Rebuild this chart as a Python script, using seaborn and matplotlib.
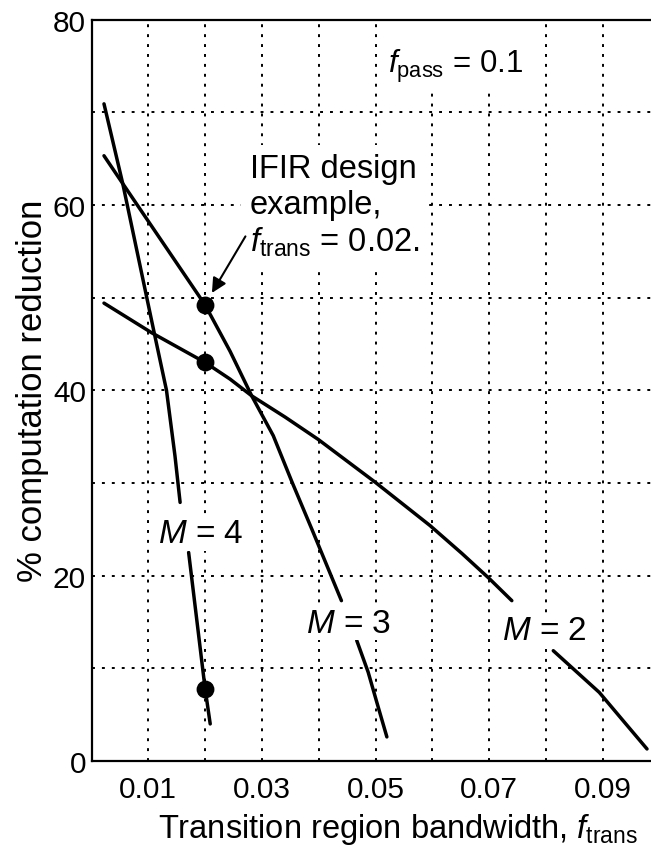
import numpy as np
import pandas as pd
import seaborn as sns
import matplotlib.pyplot as plt
from matplotlib.ticker import MultipleLocator

# ---------------------------------------------------- data ----------------------------------------------------
m4_upper_x = [0.0022, 0.0055, 0.0109, 0.0132, 0.0147, 0.0156]
m4_upper_y = [70.9, 62.3, 46.6, 40.0, 32.9, 27.9]
m4_lower_x = [0.0171, 0.0200, 0.0209]
m4_lower_y = [22.5, 7.8, 4.0]

m3_upper_x = [0.0022, 0.0055, 0.0200, 0.0244, 0.0282, 0.0320, 0.0353, 0.0388, 0.0440]
m3_upper_y = [65.3, 62.3, 49.2, 44.2, 39.4, 35.1, 30.1, 25.0, 17.3]
m3_lower_x = [0.0467, 0.0487, 0.0502, 0.0520]
m3_lower_y = [13.0, 9.6, 6.4, 2.6]

m2_upper_x = [0.0022, 0.0106, 0.0200, 0.0244, 0.0282, 0.0341, 0.0399, 0.0499, 0.0596, 0.0652, 0.0700, 0.0740]
m2_upper_y = [49.4, 46.2, 43.0, 41.2, 39.4, 37.1, 34.7, 30.1, 25.4, 22.4, 19.7, 17.3]
m2_lower_x = [0.0813, 0.0894, 0.0938, 0.0978]
m2_lower_y = [11.9, 7.4, 4.2, 1.3]

design_x = [0.02, 0.02, 0.02]
design_y = [49.2, 43.0, 7.8]

x_ticks = [0.01, 0.03, 0.05, 0.07, 0.09]
x_tick_labels = ['0.01', '0.03', '0.05', '0.07', '0.09']
y_ticks = [0, 20, 40, 60, 80]


def segments_frame():
    parts = [('M4a', m4_upper_x, m4_upper_y), ('M4b', m4_lower_x, m4_lower_y),
             ('M3a', m3_upper_x, m3_upper_y), ('M3b', m3_lower_x, m3_lower_y),
             ('M2a', m2_upper_x, m2_upper_y), ('M2b', m2_lower_x, m2_lower_y)]
    frames = [pd.DataFrame({'x': xs, 'y': ys, 'seg': name}) for name, xs, ys in parts]
    return pd.concat(frames, ignore_index=True)


# ---------------------------------------------------- style ----------------------------------------------------
sns.set_style('white')
plt.rcParams['font.family'] = ['Liberation Sans', 'DejaVu Sans']
plt.rcParams['mathtext.fontset'] = 'custom'
plt.rcParams['mathtext.rm'] = 'Liberation Sans'
plt.rcParams['mathtext.it'] = 'Liberation Sans:italic'
plt.rcParams['mathtext.bf'] = 'Liberation Sans:bold'
for key in ['text.color', 'axes.labelcolor', 'xtick.color', 'ytick.color', 'axes.edgecolor']:
    plt.rcParams[key] = 'black'

fig = plt.figure(figsize=(6.51, 8.54), dpi=100)
ax = fig.add_axes([91.5 / 651, 92 / 854, 568 / 651, 741.5 / 854])

df = segments_frame()
sns.lineplot(data=df, x='x', y='y', units='seg', estimator=None, sort=False,
             color='black', linewidth=2.5, ax=ax, legend=False)
sns.scatterplot(x=design_x, y=design_y, color='black', s=165, edgecolor='black',
                linewidth=0, zorder=5, ax=ax)

ax.set_xlim(0, 0.1)
ax.set_ylim(0, 80)
ax.set_xticks(x_ticks)
ax.set_xticklabels(x_tick_labels)
ax.set_yticks(y_ticks)
ax.xaxis.set_minor_locator(MultipleLocator(0.01))
ax.yaxis.set_minor_locator(MultipleLocator(10))
ax.grid(which='both', color='black', linestyle=(0, (1.5, 3.6)), linewidth=1.4)
ax.set_axisbelow(True)
ax.tick_params(axis='x', which='both', length=0, pad=10, labelsize=21.5)
ax.tick_params(axis='y', which='both', length=0, pad=4, labelsize=21.5)

for side in ['left', 'bottom', 'top', 'right']:
    ax.spines[side].set_linewidth(1.6)
    ax.spines[side].set_zorder(10)

ax.set_xlabel('Transition region bandwidth, $f_{\\mathrm{trans}}$', fontsize=23.5)
ax.xaxis.set_label_coords(0.54, -0.068)
ax.set_ylabel('% computation reduction', fontsize=25, labelpad=3)

box = dict(facecolor='white', edgecolor='none', pad=3)
ax.text(0.0522, 73.0, ' \n$f_{\\mathrm{pass}}$ = 0.1', fontsize=22.5, va='bottom', ha='left',
        bbox=box, linespacing=1.0)
ax.text(0.0279, 65.6, 'IFIR design\nexample,\n$f_{\\mathrm{trans}}$ = 0.02.', fontsize=23.5,
        va='top', ha='left', linespacing=1.2, bbox=dict(facecolor='white', edgecolor='none', pad=6))
ax.annotate('', xy=(0.0212, 50.5), xytext=(0.0271, 56.6),
            arrowprops=dict(arrowstyle='-|>', color='black', lw=1.5, mutation_scale=22,
                            shrinkA=0, shrinkB=0), zorder=6)

m_box = dict(facecolor='white', edgecolor='none', pad=1)
ax.text(0.0117, 23.6, '$M$ = 4', fontsize=24, va='baseline', ha='left', bbox=m_box)
ax.text(0.0377, 13.9, '$M$ = 3', fontsize=24, va='baseline', ha='left', bbox=m_box)
ax.text(0.0722, 13.2, '$M$ = 2', fontsize=24, va='baseline', ha='left', bbox=m_box)

plt.savefig('out.png', dpi=100)
